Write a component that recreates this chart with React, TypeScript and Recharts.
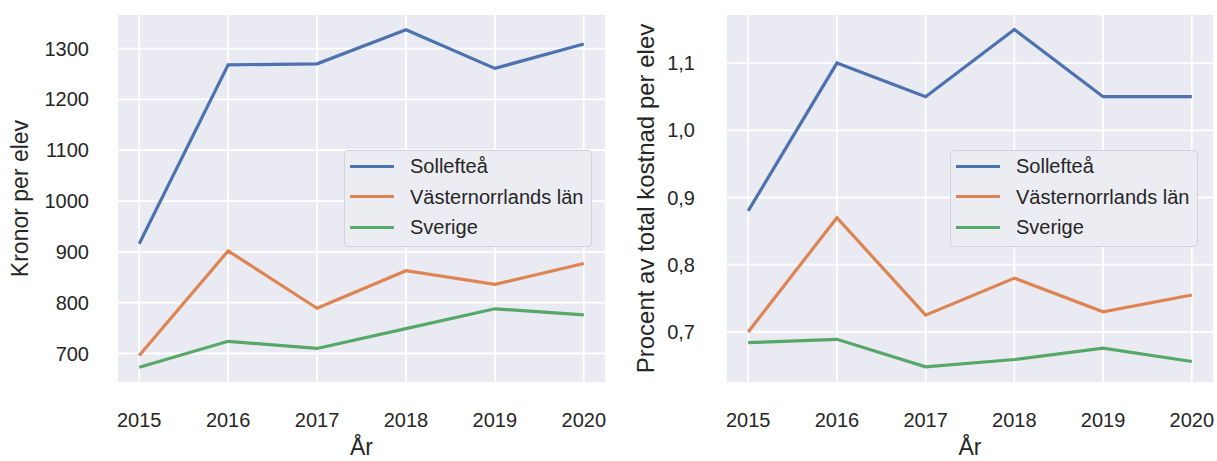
import React from 'react'
import { LineChart, Line, XAxis, YAxis, CartesianGrid, Legend } from 'recharts'

const years = [2015, 2016, 2017, 2018, 2019, 2020]
const seriesNames = ['Sollefteå', 'Västernorrlands län', 'Sverige']
const seriesColors = ['#4C72B0', '#DD8452', '#55A868']

const kronorSolleftea = [916, 1268, 1270, 1337, 1261, 1309]
const kronorVasternorrland = [696, 902, 789, 863, 836, 877]
const kronorSverige = [673, 724, 710, 749, 788, 776]
const kronorTicks = [700, 800, 900, 1000, 1100, 1200, 1300]

const procentSolleftea = [0.88, 1.1, 1.05, 1.15, 1.05, 1.05]
const procentVasternorrland = [0.7, 0.87, 0.725, 0.78, 0.73, 0.755]
const procentSverige = [0.684, 0.689, 0.648, 0.659, 0.676, 0.656]
const procentTicks = [0.7, 0.8, 0.9, 1.0, 1.1]

const FONT = '"Liberation Sans", Arial, sans-serif'
const TEXT = '#262626'
const BG = '#EAEAF2'

const buildRows = (a: number[], b: number[], c: number[]) =>
  years.map((year, i) => ({ year, s0: a[i], s1: b[i], s2: c[i] }))

// recharts sorts legend items by name, put them back in series order
const LegendBox = ({ payload }: any) => {
  const items = [...(payload || [])].sort(
    (a: any, b: any) => seriesNames.indexOf(a.value) - seriesNames.indexOf(b.value)
  )
  return (
    <div
      style={{
        background: '#ECECF3',
        border: '1px solid #D3D3DA',
        borderRadius: 4,
        padding: '0 8px 3px 5px',
        fontFamily: FONT,
        fontSize: 20,
        color: TEXT,
        lineHeight: '30.5px',
      }}
    >
      {items.map((p: any) => (
        <div key={p.value} style={{ display: 'flex', alignItems: 'center', whiteSpace: 'nowrap' }}>
          <span style={{ display: 'inline-block', width: 44, height: 3, background: p.color, marginRight: 16 }} />
          <span>{p.value}</span>
        </div>
      ))}
    </div>
  )
}

interface PanelProps {
  width: number
  rows: any[]
  ticks: number[]
  domain: [number, number]
  yWidth: number
  tickMargin: number
  yLabel: string
  yLabelOffset: number
  yLabelSize: number
  rightMargin: number
  legendLeft: number
  format?: (v: number) => string
}

function Panel(p: PanelProps) {
  return (
    <LineChart
      width={p.width}
      height={461}
      data={p.rows}
      margin={{ top: 14, right: p.rightMargin, bottom: 0, left: 0 }}
    >
      <CartesianGrid fill={BG} fillOpacity={1} stroke="#FFFFFF" strokeWidth={1.8} />
      <XAxis
        dataKey="year"
        type="number"
        domain={[2014.75, 2020.25]}
        ticks={years}
        height={78}
        axisLine={false}
        tickLine={false}
        tickSize={0}
        tickMargin={30}
        tick={{ fontSize: 20, fill: TEXT, fontFamily: FONT }}
        label={{ value: 'År', position: 'insideBottom', offset: 6, fontSize: 23, fill: TEXT, fontFamily: FONT }}
      />
      <YAxis
        type="number"
        domain={p.domain}
        ticks={p.ticks}
        allowDataOverflow
        width={p.yWidth}
        axisLine={false}
        tickLine={false}
        tickSize={0}
        tickMargin={p.tickMargin}
        tickFormatter={p.format}
        tick={{ fontSize: 20, fill: TEXT, fontFamily: FONT }}
        label={{
          value: p.yLabel,
          angle: -90,
          position: 'insideLeft',
          offset: p.yLabelOffset,
          fontSize: p.yLabelSize,
          fill: TEXT,
          fontFamily: FONT,
          style: { textAnchor: 'middle' },
        }}
      />
      <Legend
        layout="vertical"
        align="center"
        verticalAlign="middle"
        content={<LegendBox />}
        wrapperStyle={{ left: p.legendLeft, top: 150, width: 'auto' }}
      />
      {seriesNames.map((name, i) => (
        <Line
          key={name}
          dataKey={'s' + i}
          name={name}
          stroke={seriesColors[i]}
          strokeWidth={3.2}
          dot={false}
          activeDot={false}
          isAnimationActive={false}
        />
      ))}
    </LineChart>
  )
}

export default function App() {
  return (
    <div style={{ position: 'absolute', left: 0, top: 0, width: 1217, height: 461, background: '#fff', display: 'flex' }}>
      <Panel
        width={620}
        rows={buildRows(kronorSolleftea, kronorVasternorrland, kronorSverige)}
        ticks={kronorTicks}
        domain={[642, 1368]}
        yWidth={117}
        tickMargin={28}
        yLabel="Kronor per elev"
        yLabelOffset={20}
        yLabelSize={23}
        rightMargin={14}
        legendLeft={344}
      />
      <Panel
        width={597}
        rows={buildRows(procentSolleftea, procentVasternorrland, procentSverige)}
        ticks={procentTicks}
        domain={[0.624, 1.173]}
        yWidth={106}
        tickMargin={31}
        yLabel="Procent av total kostnad per elev"
        yLabelOffset={25}
        yLabelSize={24}
        rightMargin={3}
        legendLeft={330}
        format={(v: number) => v.toFixed(1).replace('.', ',')}
      />
    </div>
  )
}
